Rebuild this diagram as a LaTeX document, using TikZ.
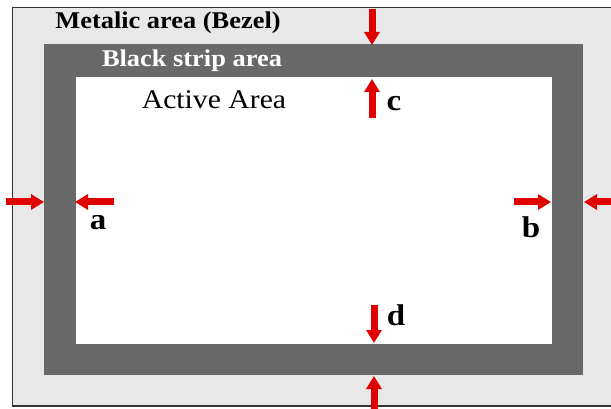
\documentclass[tikz,border=0pt]{standalone}
\usepackage{fontspec}
\setmainfont{Liberation Serif}[FakeStretch=1.1]
\usetikzlibrary{arrows.meta}
\definecolor{bezelgray}{HTML}{E8E8E8}
\definecolor{stripgray}{HTML}{696969}
\definecolor{arrowred}{HTML}{E00000}
\tikzset{
	gaparrow/.style={arrowred,line width=7pt,-{Triangle[width=15pt,length=13pt]}},
	arealabel/.style={font=\fontsize{24}{24}\selectfont\bfseries},
	gaplabel/.style={font=\fontsize{30}{30}\selectfont\bfseries}
}
\begin{document}
\begin{tikzpicture}[x=1pt,y=-1pt]
				\useasboundingbox (0,0) rectangle (611,409);
				\draw[fill=bezelgray,draw=black!80,line width=1.2pt] (12.5,7.5) rectangle (625,406);
				\fill[stripgray] (44,44) rectangle (583,375);
				\fill[white] (76,77) rectangle (552,344);
				\node[arealabel] (bezeltext) at (168,23) {Metalic area (Bezel)};
				\node[arealabel,white] (striptext) at (192,61) {Black strip area};
				\node[font=\fontsize{27}{27}\selectfont] (activetext) at (214,100) {Active Area};
				% arrow ends
				\coordinate (ctop0) at (372,9);    \coordinate (ctop1) at (372,45);
				\coordinate (cin0) at (372,118);   \coordinate (cin1) at (372,79);
				\coordinate (aout0) at (6,202);    \coordinate (aout1) at (44,202);
				\coordinate (ain0) at (114,202);   \coordinate (ain1) at (75,202);
				\coordinate (bin0) at (514,202);   \coordinate (bin1) at (551,202);
				\coordinate (bout0) at (615,202);  \coordinate (bout1) at (584,202);
				\coordinate (din0) at (374,305);   \coordinate (din1) at (374,343);
				\coordinate (dout0) at (374,412);  \coordinate (dout1) at (374,376);
				\draw[gaparrow] (ctop0) -- (ctop1);
				\draw[gaparrow] (cin0) -- (cin1);
				\draw[gaparrow] (aout0) -- (aout1);
				\draw[gaparrow] (ain0) -- (ain1);
				\draw[gaparrow] (bin0) -- (bin1);
				\draw[gaparrow] (bout0) -- (bout1);
				\draw[gaparrow] (din0) -- (din1);
				\draw[gaparrow] (dout0) -- (dout1);
				\node[gaplabel] (alabel) at (98,223) {a};
				\node[gaplabel] (blabel) at (531,227) {b};
				\node[gaplabel] (clabel) at (394,104) {c};
				\node[gaplabel] (dlabel) at (396,315) {d};
			\end{tikzpicture}
\end{document}
